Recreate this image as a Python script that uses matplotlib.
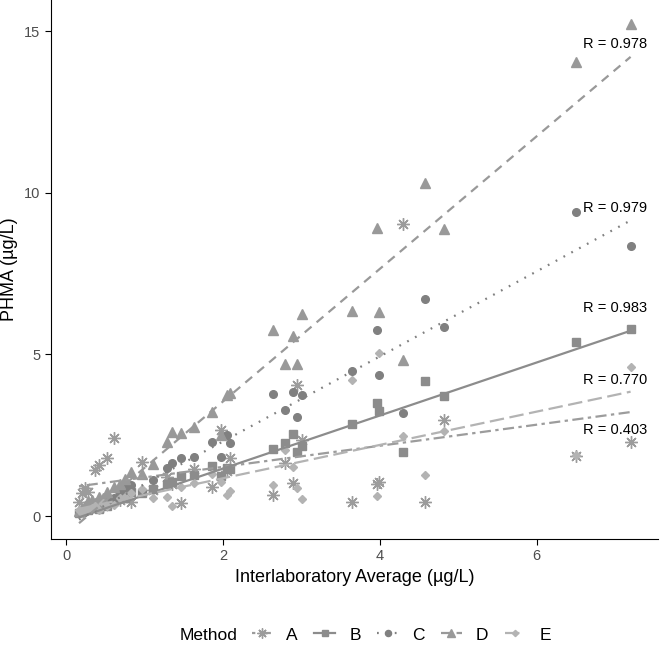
"""PHMA by method vs interlaboratory average, with per-method linear fits."""
import matplotlib.pyplot as plt
import numpy as np
from matplotlib.lines import Line2D

plt.rcParams["font.family"] = ["Liberation Sans", "DejaVu Sans"]

# interlaboratory average per sample (ug/L)
x_avg = [0.16, 0.20, 0.24, 0.28, 0.33, 0.37, 0.41, 0.46, 0.52, 0.61, 0.68, 0.75,
         0.82, 0.97, 1.10, 1.28, 1.35, 1.46, 1.63, 1.86, 1.97, 2.05, 2.09, 2.64,
         2.79, 2.89, 2.94, 3.01, 3.65, 3.96, 3.99, 4.30, 4.58, 4.82, 6.50, 7.20]

# PHMA result per method for each sample
phma_a = [0.44, 0.70, 0.86, 0.75, 0.35, 1.42, 1.58, 0.30, 1.79, 2.40, 0.50, 0.80,
          0.44, 1.68, 0.80, 1.22, 1.00, 0.40, 1.44, 0.90, 2.66, 1.40, 1.79, 0.64,
          1.63, 1.02, 4.07, 2.35, 0.42, 1.00, 1.05, 9.03, 0.42, 2.97, 1.85, 2.30]
phma_b = [0.10, 0.12, 0.18, 0.20, 0.25, 0.30, 0.22, 0.35, 0.30, 0.45, 0.60, 0.55,
          0.75, 0.70, 0.85, 0.99, 1.05, 1.24, 1.27, 1.55, 1.24, 1.50, 1.44, 2.08,
          2.26, 2.54, 1.97, 2.17, 2.84, 3.49, 3.25, 1.98, 4.19, 3.72, 5.40, 5.80]
phma_c = [0.12, 0.15, 0.20, 0.25, 0.30, 0.28, 0.35, 0.40, 0.45, 0.55, 0.70, 0.90,
          0.95, 0.75, 1.10, 1.48, 1.63, 1.79, 1.82, 2.30, 1.82, 2.50, 2.25, 3.77,
          3.29, 3.84, 3.07, 3.73, 4.49, 5.75, 4.37, 3.20, 6.72, 5.86, 9.40, 8.35]
phma_d = [0.15, 0.25, 0.30, 0.45, 0.50, 0.39, 0.60, 0.55, 0.75, 0.90, 1.00, 1.15,
          1.37, 1.30, 1.60, 2.30, 2.61, 2.56, 2.76, 3.23, 2.51, 3.75, 3.80, 5.77,
          4.72, 5.56, 4.72, 6.26, 6.33, 8.90, 6.31, 4.82, 10.30, 8.89, 14.05, 15.23]
phma_e = [0.20, 0.10, 0.15, 0.20, 0.25, 0.30, 0.20, 0.40, 0.30, 0.35, 0.55, 0.60,
          0.70, 0.85, 0.55, 0.60, 0.30, 0.90, 1.01, 1.30, 1.06, 0.65, 0.78, 0.95,
          2.05, 1.53, 0.86, 0.54, 4.20, 0.62, 5.06, 2.48, 1.26, 2.64, 1.90, 4.60]

methods = ["A", "B", "C", "D", "E"]
fit_slope = [0.326, 0.82, 1.315, 2.05, 0.515]
fit_intercept = [0.87, -0.17, -0.32, -0.55, 0.14]
r_values = ["0.403", "0.983", "0.979", "0.978", "0.770"]

# styling per method
colors = ["#9c9c9c", "#8c8c8c", "#808080", "#999999", "#b3b3b3"]
markers = [(8, 2, 0), "s", "o", "^", "D"]
msizes = [9, 5.5, 5.5, 7.5, 4]
dashes = [(1.5, 2, 5, 2), None, (0.8, 3.2), (4, 3), (6.5, 2.5)]
label_y = [2.66, 6.44, 9.54, 14.6, 4.21]

series = [phma_a, phma_b, phma_c, phma_d, phma_e]
x = np.array(x_avg)

fig = plt.figure(figsize=(6.6, 6.47), dpi=100)
ax = fig.add_axes([0.077, 0.167, 0.92, 0.833])

handles = []
for i, m in enumerate(methods):
    ax.plot(x, series[i], linestyle="none", marker=markers[i], ms=msizes[i],
            color=colors[i], mec=colors[i], mew=1.0, zorder=2)
    xs = np.array([x.min(), x.max()])
    ln, = ax.plot(xs, fit_intercept[i] + fit_slope[i] * xs, color=colors[i],
                  lw=1.6, zorder=3)
    if dashes[i] is not None:
        ln.set_dashes(dashes[i])
    ax.text(6.59, label_y[i], f"R = {r_values[i]}", fontsize=10.5,
            ha="left", va="center", zorder=4)
    h = Line2D([0], [0], color=colors[i], lw=1.6, marker=markers[i],
               ms=msizes[i] * 0.8, mec=colors[i])
    if dashes[i] is not None:
        h.set_dashes(dashes[i])
    handles.append(h)

ax.set_xlim(-0.2, 7.55)
ax.set_ylim(-0.71, 15.97)
ax.set_xticks([0, 2, 4, 6])
ax.set_yticks([0, 5, 10, 15])
ax.spines["top"].set_visible(False)
ax.spines["right"].set_visible(False)
ax.tick_params(labelsize=10.5, labelcolor="#4d4d4d", length=4)
ax.set_xlabel("Interlaboratory Average (µg/L)", fontsize=13)
ax.set_ylabel("PHMA (µg/L)", fontsize=13)

fig.text(180 / 660, 1 - 635 / 647, "Method", fontsize=12.5, va="center")
fig.legend(handles, methods, ncol=5, loc="center left",
           bbox_to_anchor=(236 / 660, 1 - 635 / 647), frameon=False,
           fontsize=12.5, handlelength=1.2, handletextpad=0.8,
           columnspacing=0.95)

fig.savefig("out.png", dpi=100)
